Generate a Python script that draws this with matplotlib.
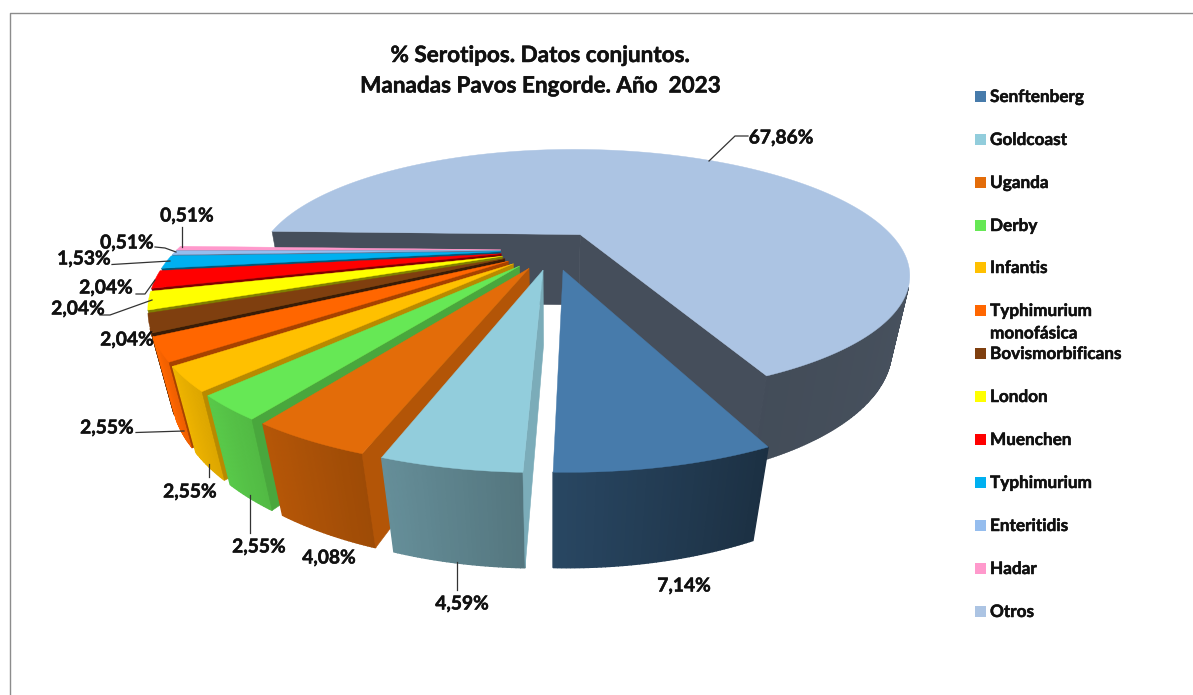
import numpy as np
import matplotlib
matplotlib.use("Agg")
import matplotlib.pyplot as plt
import matplotlib.patheffects as pe
from matplotlib.colors import to_rgb
from matplotlib.patches import Rectangle

plt.rcParams['font.family'] = ['Lato', 'DejaVu Sans']

# data, in the order the slices run round the pie
series = ["Senftenberg", "Goldcoast", "Uganda", "Derby", "Infantis",
          "Typhimurium\nmonofásica", "Bovismorbificans", "London", "Muenchen",
          "Typhimurium", "Enteritidis", "Hadar", "Otros"]
values = [7.14, 4.59, 4.08, 2.55, 2.55, 2.55, 2.04, 2.04, 2.04, 1.53, 0.51, 0.51, 67.86]
value_labels = ["7,14%", "4,59%", "4,08%", "2,55%", "2,55%", "2,55%", "2,04%",
                "2,04%", "2,04%", "1,53%", "0,51%", "0,51%", "67,86%"]
colors = ["#477BAB", "#92CDDC", "#E36C09", "#66E855", "#FFC000", "#FF6600", "#7F3F0F",
          "#FFFF00", "#FF0000", "#00B0F0", "#95BDEE", "#FF99CC", "#ACC4E3"]
cut_shade = [0.6, 0.84, 0.79, 0.72, 0.72, 0.65, 0.45, 0.5, 0.5, 0.5, 0.6, 0.6, 0.4]

# label centre and leader line, in pixels
label_pos = [(684, 586), (462, 604), (329, 558), (259, 547), (190, 492), (107, 428), (127, 340),
             (78, 309), (106, 288), (84, 259), (127, 243), (187, 216), (781, 138)]
leaders = [None,
           [(456.5, 562), (456.5, 590)],
           None,
           [(249.5, 495), (249.5, 533)],
           [(208.5, 464), (208.5, 477)],
           [(136, 432.5), (184, 431)],
           None,
           [(100, 315), (110, 315), (152, 300)],
           [(136, 294), (145, 294), (155, 280)],
           [(112, 264.5), (170, 261)],
           [(155, 247), (165, 248), (176, 252)],
           [(182, 227), (182, 247)],
           [(748, 136), (735, 136), (709, 161)]]
legend_y = [96, 139, 182, 225, 267, 310, 353, 396, 439, 482, 525, 568, 611]

# pie geometry: projective view of a flat disc
CX, CY = 552.5, 250
A, B = 324, 121
P = 0.32
EXPLODE = 0.16
DEPTH_Y, DEPTH_W = 76, 0.05
START = 66

# a touch of stroke, the reference text is heavier than Lato bold
heavy = [pe.withStroke(linewidth=0.35, foreground="#111111")]


def project(x, y, h):
    w = 1 - P * y + DEPTH_W * h
    return np.column_stack([CX + A * x / w, CY + (B * y + DEPTH_Y * h) / w])


def shade(color, f):
    return tuple(min(1, c * f) for c in to_rgb(color))


def wall_shade(t):
    t = t % 360
    if t > 270:
        t -= 360
    if t < 66:
        return 0.39 + 0.0006 * (66 - t)
    return min(1, 0.39 + 0.0072 * (t - 66))


def signed_area(q):
    x, y = q[:, 0], q[:, 1]
    return 0.5 * np.sum(x * np.roll(y, -1) - np.roll(x, -1) * y)


def draw_face(ax, quad, color, z, lw=0.4):
    # same colour edge so the strips don't show seams
    if signed_area(quad) < 0:
        ax.fill(quad[:, 0], quad[:, 1], color=color, lw=lw, zorder=z)


def draw_slice(ax, a, b, color, cut, z):
    mid = np.radians((a + b) / 2)
    ox, oy = EXPLODE * np.cos(mid), EXPLODE * np.sin(mid)
    n = max(int(b - a) * 2, 8)
    t = np.linspace(a, b, n)
    xs = ox + np.cos(np.radians(t))
    ys = oy + np.sin(np.radians(t))
    top = project(xs, ys, 0)
    bot = project(xs, ys, 1)
    apex_top = project(np.array([ox]), np.array([oy]), 0)[0]
    apex_bot = project(np.array([ox]), np.array([oy]), 1)[0]

    for i in range(n - 1):
        quad = np.array([top[i], top[i + 1], bot[i + 1], bot[i]])
        draw_face(ax, quad, shade(color, wall_shade((t[i] + t[i + 1]) / 2)), z, lw=1.0)
    cut_color = shade(color, cut)
    draw_face(ax, np.array([apex_top, top[0], bot[0], apex_bot]), cut_color, z)
    draw_face(ax, np.array([top[-1], apex_top, apex_bot, bot[-1]]), cut_color, z)
    outline = np.vstack([apex_top, top])
    ax.fill(outline[:, 0], outline[:, 1], color=color, lw=0.3, zorder=z)


fig = plt.figure(figsize=(11.93, 6.95), dpi=100)
ax = fig.add_axes([0, 0, 1, 1])
ax.set_xlim(0, 1193)
ax.set_ylim(695, 0)
ax.axis("off")

# chart frame
ax.plot([10, 10, 1193], [695, 12.5, 12.5], color="#8C8C8C", lw=1, zorder=1)

spans = np.array(values) / sum(values) * 360
ends = START + np.cumsum(spans)
starts = ends - spans

# back to front: Otros first, then round from Hadar down to Senftenberg
order = [12] + list(range(11, -1, -1))
for z, i in enumerate(order):
    draw_slice(ax, starts[i], ends[i], colors[i], cut_shade[i], 2 + z)

for i, (x, y) in enumerate(label_pos):
    ax.text(x, y, value_labels[i], ha="center", va="center", fontsize=13.8,
            fontweight="bold", color="#111111", zorder=30, path_effects=heavy)
    if leaders[i]:
        pts = np.array(leaders[i])
        ax.plot(pts[:, 0], pts[:, 1], color="#333333", lw=0.9, zorder=29)

ax.text(540, 55.5, "% Serotipos. Datos conjuntos.", ha="center", va="center",
        fontsize=16.2, fontweight="bold", color="#111111", path_effects=heavy)
ax.text(540, 86, "Manadas Pavos Engorde. Año  2023", ha="center", va="center",
        fontsize=16.2, fontweight="bold", color="#111111", path_effects=heavy)

for i, name in enumerate(series):
    y = legend_y[i]
    ax.add_patch(Rectangle((975, y - 5.5), 11, 11, facecolor=colors[i], edgecolor="none"))
    lines = name.split("\n")
    for k, line in enumerate(lines):
        ax.text(990, y + 1 + k * 22.5, line, ha="left", va="center", fontsize=12.35,
                fontweight="bold", color="#111111", path_effects=heavy)

fig.savefig("out.png", dpi=100)
